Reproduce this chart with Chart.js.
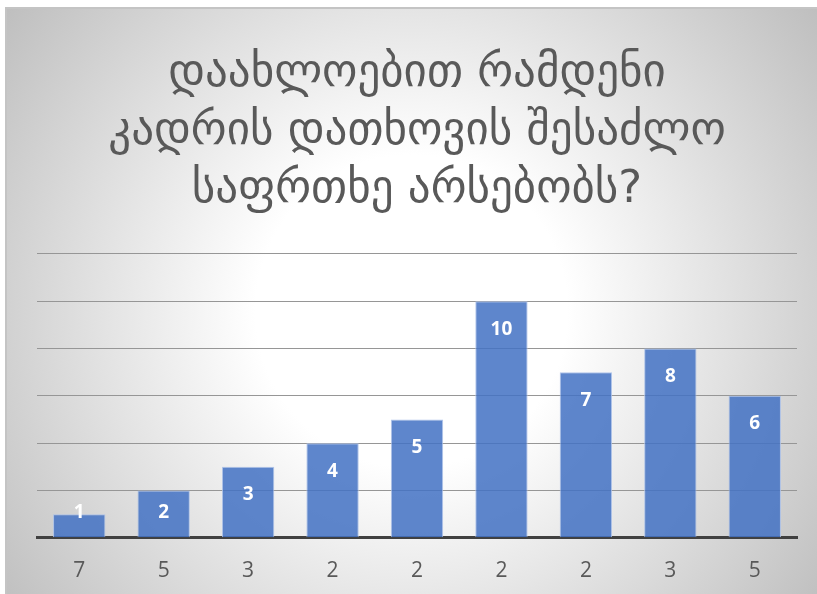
<!DOCTYPE html>
<html>
<head>
<meta charset="utf-8">
<script src="https://cdn.jsdelivr.net/npm/chart.js@4/dist/chart.umd.min.js"></script>
<style>
  html, body { margin: 0; padding: 0; background: #ffffff; }
  #wrap { width: 817px; height: 594px; position: relative; }
  canvas { display: block; }
</style>
</head>
<body>
<div id="wrap"><canvas id="chart" width="817" height="594"></canvas></div>
<script>
// Survey answers: how many staff may be at risk of dismissal
const titleLines = ['დაახლოებით რამდენი', 'კადრის დათხოვის შესაძლო', 'საფრთხე არსებობს?'];
const categories = ['7', '5', '3', '2', '2', '2', '2', '3', '5'];
const values = [1, 2, 3, 4, 5, 10, 7, 8, 6];
const yMax = 12;
const yStep = 2;

// Frame with a soft radial shading behind everything
const backgroundPlugin = {
  id: 'panelBackground',
  beforeDraw(chart) {
    const ctx = chart.ctx;
    const w = chart.width, h = chart.height;
    ctx.save();
    ctx.fillStyle = '#ffffff';
    ctx.fillRect(0, 0, w, h);
    const left = 6, top = 8;
    const cx = (left + w) / 2, cy = (top + h) / 2 + 10;
    const g = ctx.createRadialGradient(cx, cy, 0, cx, cy, 520);
    g.addColorStop(0, '#ffffff');
    g.addColorStop(0.3, '#ffffff');
    g.addColorStop(1, '#bcbcbc');
    ctx.fillStyle = g;
    ctx.fillRect(left, top, w - left, h - top);
    ctx.strokeStyle = '#c4c4c4';
    ctx.lineWidth = 2;
    ctx.beginPath();
    ctx.moveTo(left, h);
    ctx.lineTo(left, top);
    ctx.lineTo(w, top);
    ctx.stroke();
    ctx.restore();
  }
};

// Value labels printed inside the upper end of each bar
const valueLabelPlugin = {
  id: 'valueLabels',
  afterDatasetsDraw(chart) {
    const ctx = chart.ctx;
    const meta = chart.getDatasetMeta(0);
    ctx.save();
    ctx.fillStyle = '#ffffff';
    ctx.font = '700 19px "Open Sans", "DejaVu Sans", sans-serif';
    ctx.textAlign = 'center';
    ctx.textBaseline = 'middle';
    meta.data.forEach((bar, i) => {
      const y = Math.min(bar.y + 28, bar.base - 25);
      ctx.fillText(String(chart.data.datasets[0].data[i]), bar.x, y);
    });
    ctx.restore();
  }
};

new Chart(document.getElementById('chart'), {
  type: 'bar',
  data: {
    labels: categories,
    datasets: [{
      data: values,
      backgroundColor: 'rgba(68, 114, 196, 0.86)',
      borderColor: 'rgba(170, 192, 232, 0.9)',
      borderWidth: 1,
      categoryPercentage: 1,
      barPercentage: 0.62
    }]
  },
  options: {
    responsive: false,
    animation: false,
    devicePixelRatio: 1,
    layout: { padding: { left: 37, right: 20, top: 46, bottom: -11 } },
    plugins: {
      legend: { display: false },
      tooltip: { enabled: false },
      title: {
        display: true,
        text: titleLines,
        color: '#595959',
        font: { family: '"DejaVu Sans", sans-serif', size: 45, weight: 'normal', lineHeight: 1.28 },
        padding: { top: 0, bottom: 35 }
      }
    },
    scales: {
      x: {
        grid: { display: false, drawTicks: false },
        border: { display: true, color: '#404040', width: 3 },
        ticks: { color: '#595959', font: { family: '"Open Sans", sans-serif', size: 21 }, padding: 21 }
      },
      y: {
        min: 0,
        max: yMax,
        ticks: { display: false, stepSize: yStep },
        border: { display: false },
        grid: { color: '#969696', lineWidth: 1, drawTicks: false }
      }
    }
  },
  plugins: [backgroundPlugin, valueLabelPlugin]
});
</script>
</body>
</html>
